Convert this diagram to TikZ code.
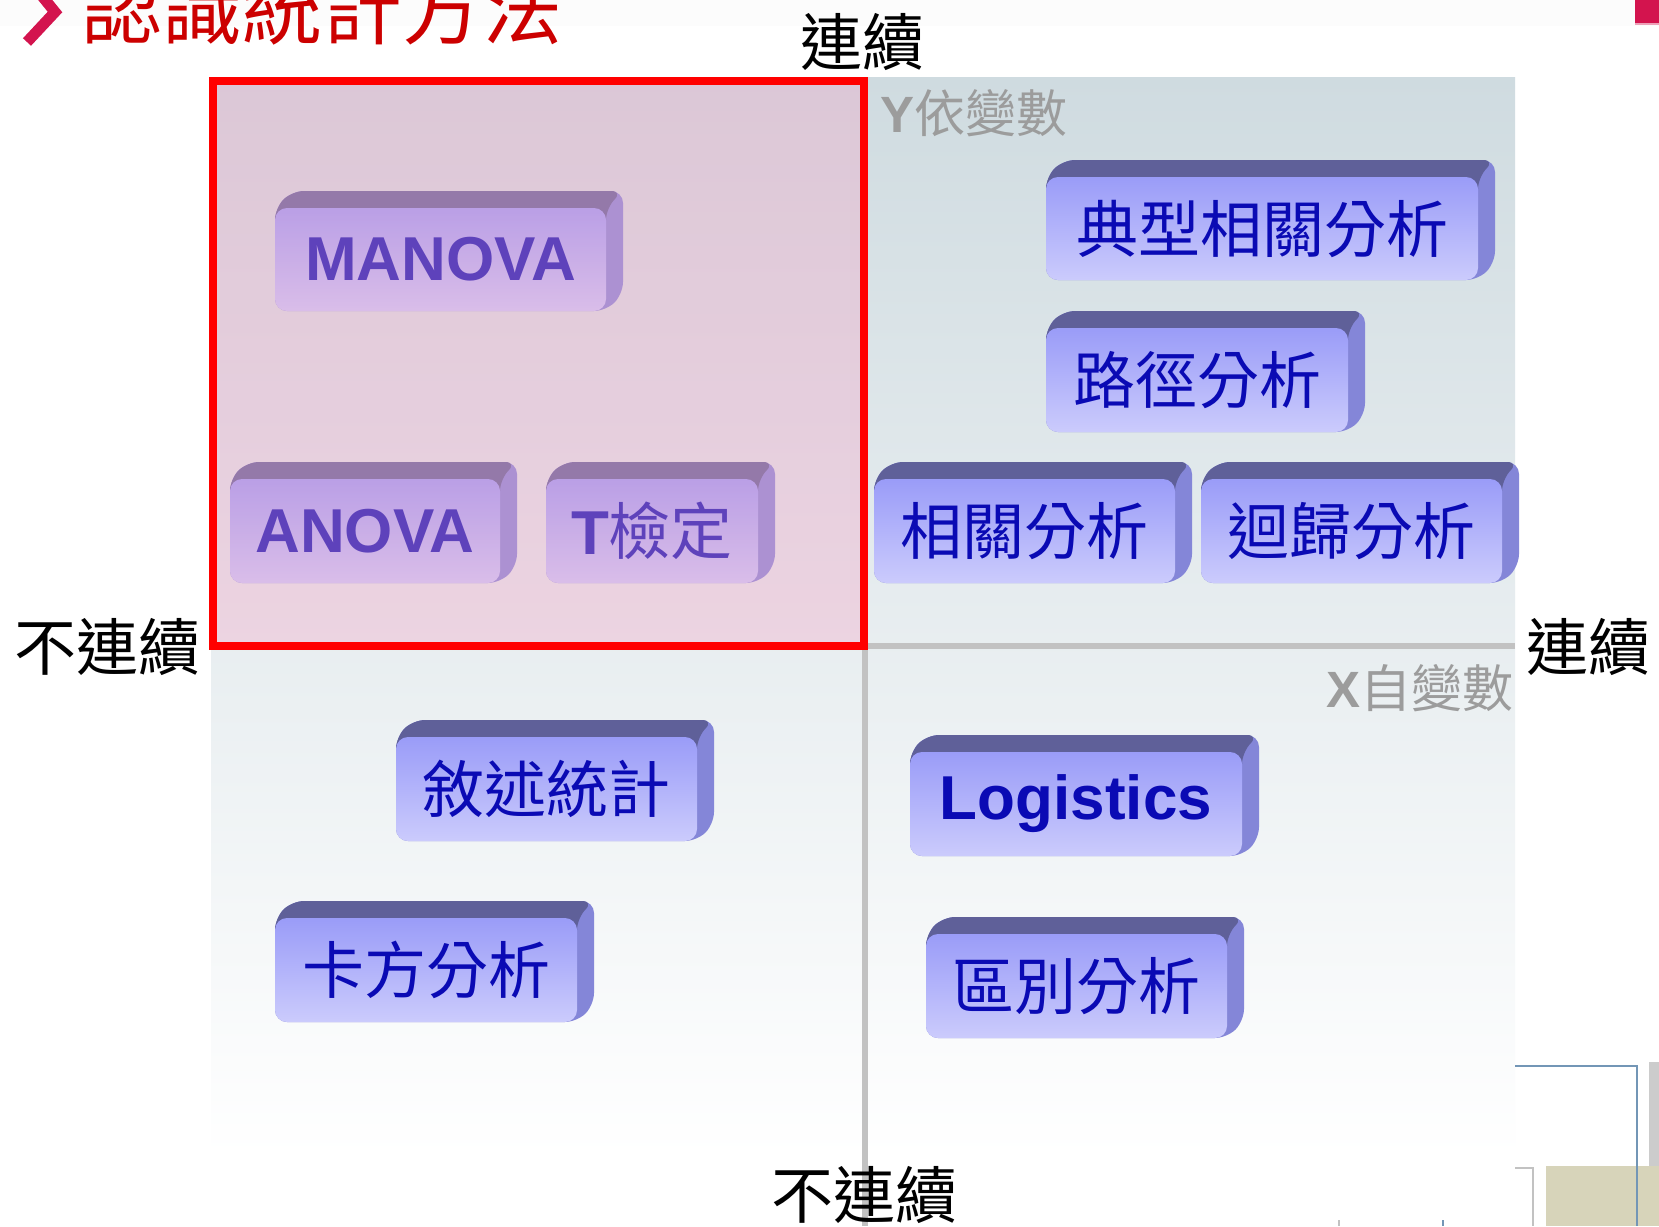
\documentclass[tikz,border=0pt]{standalone}
\usepackage{fontspec}
\setmainfont{Liberation Sans}
\newfontfamily\cjk{Noto Sans CJK TC}
\newfontfamily\lat{Liberation Sans}
\newcommand\myfs[1]{\fontsize{#1}{#1}\selectfont}
\definecolor{btop}{HTML}{5F6099}
\definecolor{bside}{HTML}{8486D8}
\definecolor{ftop}{HTML}{9A9CF8}
\definecolor{fbot}{HTML}{CBCBFC}
\definecolor{btxt}{HTML}{0A0AB4}
\definecolor{bgtop}{HTML}{CFDBE0}
\definecolor{pinkov}{HTML}{F4A6C8}
\definecolor{axisgrey}{HTML}{C2C2C2}
\definecolor{lblgrey}{HTML}{9C9C9C}
\definecolor{titlered}{HTML}{CC0000}
\definecolor{crim}{HTML}{D3144E}
\definecolor{steel}{HTML}{7396B6}
\definecolor{beige}{HTML}{D7D4BA}
\tikzset{
  face/.style={rounded corners=12pt, top color=ftop, bottom color=fbot, draw=none, inner sep=0pt, text=btxt, font=\cjk\myfs{62}},
  axislbl/.style={font=\cjk\myfs{62}, text=black, inner sep=0pt},
  varlbl/.style={font=\cjk\myfs{51}, text=lblgrey, inner sep=0pt},
}
% name, x1, y1, x2, y2, text
\newcommand\tdbox[6]{%
  \fill[bside, rounded corners=12pt] (#2,#5) -- (#2,#3) -- ({#2+17},{#3-17}) -- ({#4+17},{#3-17}) -- ({#4+17},{#5-17}) -- (#4,#5) -- cycle;
  \fill[btop, rounded corners=12pt] (#2,{#3+20}) -- (#2,#3) -- ({#2+17},{#3-17}) -- ({#4+17},{#3-17}) -- (#4,#3) -- (#4,{#3+20}) -- cycle;
  \node[face, minimum width={(#4-#2)*1pt}, minimum height={(#5-#3)*1pt}] (#1) at ({(#2+#4)/2},{(#3+#5)/2}) {#6};
}
\begin{document}
\begin{tikzpicture}[x=1pt,y=-1pt]
\useasboundingbox (0,0) rectangle (1659,1226);
\clip (0,0) rectangle (1659,1226);
\fill[white] (0,0) rectangle (1659,1226);
\fill[black!1] (0,0) rectangle (1659,26);
% chart background
\shade[top color=bgtop, bottom color=white] (211,77) rectangle (1515,1157);
% boxes
\tdbox{manova}{275}{208}{606}{311}{\lat\bfseries MANOVA}
\tdbox{anova}{230}{479}{500}{583}{\lat\bfseries ANOVA}
\tdbox{ttest}{546}{479}{758}{583}{{\lat\bfseries T}檢定}
\tdbox{canon}{1046}{177}{1478}{280}{典型相關分析}
\tdbox{path}{1046}{328}{1348}{432}{路徑分析}
\tdbox{corr}{874}{479}{1175}{583}{相關分析}
\tdbox{regr}{1201}{479}{1502}{583}{迴歸分析}
\tdbox{desc}{396}{737}{697}{841}{敘述統計}
\tdbox{chisq}{275}{918}{577}{1022}{卡方分析}
\tdbox{logit}{910}{752}{1242}{856}{\lat\bfseries Logistics}
\tdbox{discr}{926}{934}{1227}{1038}{區別分析}
% pink highlighted quadrant
\fill[pinkov, opacity=0.36] (213,81) rectangle (864,646);
% axes
\draw[axisgrey, line width=6pt] (864,646) -- (1515,646);
\draw[axisgrey, line width=6pt] (865,646) -- (865,1226);
\draw[red, line width=8pt, line join=miter] (213,81) rectangle (864,646);
% axis labels
\node[axislbl] (top) at (862,42) {連續};
\node[axislbl] (left) at (107,647) {不連續};
\node[axislbl] (right) at (1588,647) {連續};
\node[axislbl] (bottom) at (864,1195) {不連續};
\node[varlbl, anchor=west] (yvar) at (880,113) {{\lat\bfseries Y}依變數};
\node[varlbl, anchor=east] (xvar) at (1514,688) {{\lat\bfseries X}自變數};
% title
\node[font=\cjk\myfs{80}, text=titlered, inner sep=0pt] (title) at (322,8) {認識統計方法};
\draw[crim, line width=11pt, line join=miter] (27,42) -- (55,12) -- (42,-4);
\fill[crim] (1635,0) rectangle (1659,23);
\fill[crim!40] (1635,23) rectangle (1659,25);
% bottom right decorations
\fill[beige] (1546,1166) rectangle (1659,1226);
\fill[black!20] (1649,1062) rectangle (1659,1166);
\draw[steel, line width=1.5pt] (1515,1066) -- (1637,1066) -- (1637,1226);
\draw[axisgrey, line width=2pt] (1515,1168) -- (1533,1168) -- (1533,1226);
\draw[axisgrey, line width=1.5pt] (1339,1220) -- (1339,1226);
\draw[steel, line width=1.5pt] (1443,1220) -- (1443,1226);
\end{tikzpicture}
\end{document}
